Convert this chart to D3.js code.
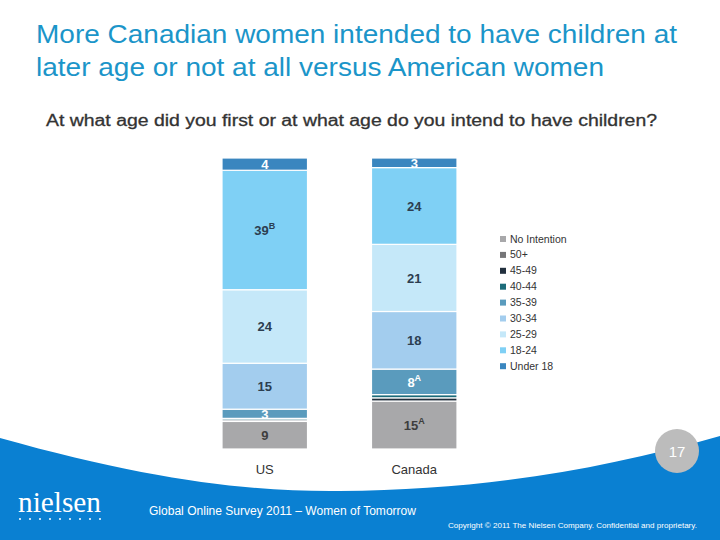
<!doctype html>
<html lang="en">
<head>
  <meta charset="utf-8">
  <title>age intention</title>
  <style>
    body { margin: 0; background: #fff; }
    svg { display: block; font-family: "Liberation Sans", Arial, sans-serif; }
    .title { fill: #1b95c9; font-size: 26px; }
    .subtitle { fill: #333; font-size: 16px; }
    .seg-label { font-size: 13px; font-weight: bold; text-anchor: middle; }
    .legend text { fill: #333; font-size: 10.5px; }
    .axis-label { fill: #333; font-size: 13px; text-anchor: middle; }
  </style>
</head>
<body>
  <div class="chart"></div>
  <script src="https://d3js.org/d3.v7.min.js"></script>
  <script>
    'use strict';

    // data
    const countries = ['US', 'Canada'];
    const ageGroups = ['No Intention', '50+', '45-49', '40-44', '35-39', '30-34', '25-29', '18-24', 'Under 18'];
    const usValues = [9, 0, 0.5, 0.5, 3, 15, 24, 39, 4];
    const canadaValues = [15, 0, 1, 1, 8, 18, 21, 24, 3];
    const usMarks = ['', '', '', '', '', '', '', 'B', ''];
    const canadaMarks = ['A', '', '', '', 'A', '', '', '', ''];
    const legendLabels = ['No Intention', '50+', '45-49', '40-44', '35-39', '30-34', '25-29', '18-24', 'Under 18'];

    const colors = ['#a8a8aa', '#767678', '#22303e', '#1c6c7a', '#5a9bbd', '#a3cdee', '#c5e8f9', '#7fd0f5', '#3a86bf'];
    const labelColors = ['#3d3d3d', '#fff', '#fff', '#fff', '#fff', '#2c3e50', '#2c3e50', '#2c3e50', '#fff'];

    const width = 720, height = 540;

    const rows = countries.map((c, i) => {
      const vals = i === 0 ? usValues : canadaValues;
      const row = {country: c};
      ageGroups.forEach((g, j) => row[g] = vals[j]);
      return row;
    });
    const marks = {US: usMarks, Canada: canadaMarks};

    const stack = d3.stack().keys(ageGroups).offset(d3.stackOffsetExpand);
    const series = stack(rows);

    const x = d3.scaleBand()
      .domain(countries)
      .range([222, 457])
      .paddingInner(0.428);

    const y = d3.scaleLinear()
      .domain([0, 1])
      .range([449, 158]);

    const color = d3.scaleOrdinal().domain(ageGroups).range(colors);

    const svg = d3.select('.chart').append('svg')
      .attr('width', width)
      .attr('height', height);

    // footer swoosh
    svg.append('path')
      .attr('d', 'M0,438 C150,480 250,492 340,491 C480,490 600,470 720,436 L720,540 L0,540 Z')
      .attr('fill', '#0a80d2');

    // titles (slide is stretched sideways, so fit the widths)
    const title = svg.append('text').attr('class', 'title');
    title.append('tspan').attr('x', 36).attr('y', 43)
      .attr('textLength', 641).attr('lengthAdjust', 'spacingAndGlyphs')
      .text('More Canadian women intended to have children at');
    title.append('tspan').attr('x', 36).attr('y', 76)
      .attr('textLength', 568).attr('lengthAdjust', 'spacingAndGlyphs')
      .text('later age or not at all versus American women');

    svg.append('text')
      .attr('class', 'subtitle')
      .attr('x', 46).attr('y', 126)
      .attr('textLength', 611).attr('lengthAdjust', 'spacingAndGlyphs')
      .attr('stroke', '#333').attr('stroke-width', 0.3)
      .text('At what age did you first or at what age do you intend to have children?');

    // bars
    const layer = svg.append('g').selectAll('g')
      .data(series)
      .join('g')
      .attr('fill', d => color(d.key));

    layer.selectAll('rect')
      .data(d => d)
      .join('rect')
      .attr('x', d => x(d.data.country))
      .attr('width', x.bandwidth())
      .attr('y', d => y(d[1]))
      .attr('height', d => Math.max(0, y(d[0]) - y(d[1])))
      .attr('stroke', '#fff')
      .attr('stroke-width', 1.2);

    // segment labels
    series.forEach((s, j) => {
      s.forEach(d => {
        const v = d.data[s.key];
        if (v < 3) return;
        const cy = (y(d[0]) + y(d[1])) / 2;
        const t = svg.append('text')
          .attr('class', 'seg-label')
          .attr('x', x(d.data.country) + x.bandwidth() / 2)
          .attr('y', cy + 5)
          .attr('fill', labelColors[j]);
        t.append('tspan').text(v);
        const m = marks[d.data.country][j];
        if (m) {
          t.append('tspan')
            .attr('dy', -6)
            .attr('font-size', '9px')
            .text(m);
        }
      });
    });

    // category labels
    svg.selectAll('.axis-label')
      .data(countries)
      .join('text')
      .attr('class', 'axis-label')
      .attr('x', d => x(d) + x.bandwidth() / 2)
      .attr('y', 474)
      .text(d => d);

    // legend
    const legend = svg.append('g').attr('class', 'legend');
    const li = legend.selectAll('g')
      .data(legendLabels)
      .join('g')
      .attr('transform', (d, i) => `translate(500,${241 + i * 15.9})`);
    li.append('rect')
      .attr('x', 0).attr('y', -5)
      .attr('width', 6).attr('height', 6)
      .attr('fill', (d, i) => colors[i]);
    li.append('text')
      .attr('x', 10).attr('y', 1.5)
      .text(d => d);

    // page number
    svg.append('circle')
      .attr('cx', 677).attr('cy', 451).attr('r', 22)
      .attr('fill', '#bcbcbc');
    svg.append('text')
      .attr('x', 677).attr('y', 457)
      .attr('text-anchor', 'middle')
      .attr('fill', '#fff')
      .attr('font-size', '15px')
      .text('17');

    // footer
    svg.append('text')
      .attr('x', 18).attr('y', 512)
      .attr('fill', '#fff')
      .attr('font-family', '"Liberation Serif", serif')
      .attr('font-size', '30px')
      .attr('textLength', 83).attr('lengthAdjust', 'spacingAndGlyphs')
      .text('nielsen');
    svg.append('g').selectAll('circle')
      .data(d3.range(9))
      .join('circle')
      .attr('cx', d => 20 + d * 10)
      .attr('cy', 519)
      .attr('r', 1)
      .attr('fill', '#fff');

    svg.append('text')
      .attr('x', 149).attr('y', 515)
      .attr('fill', '#fff')
      .attr('font-size', '12px')
      .attr('textLength', 267).attr('lengthAdjust', 'spacingAndGlyphs')
      .text('Global Online Survey 2011 \u2013 Women of Tomorrow');

    svg.append('text')
      .attr('x', 448).attr('y', 528)
      .attr('fill', '#fff')
      .attr('font-size', '8px')
      .attr('textLength', 249).attr('lengthAdjust', 'spacingAndGlyphs')
      .text('Copyright \u00A9 2011 The Nielsen Company. Confidential and proprietary.');
  </script>
</body>
</html>
